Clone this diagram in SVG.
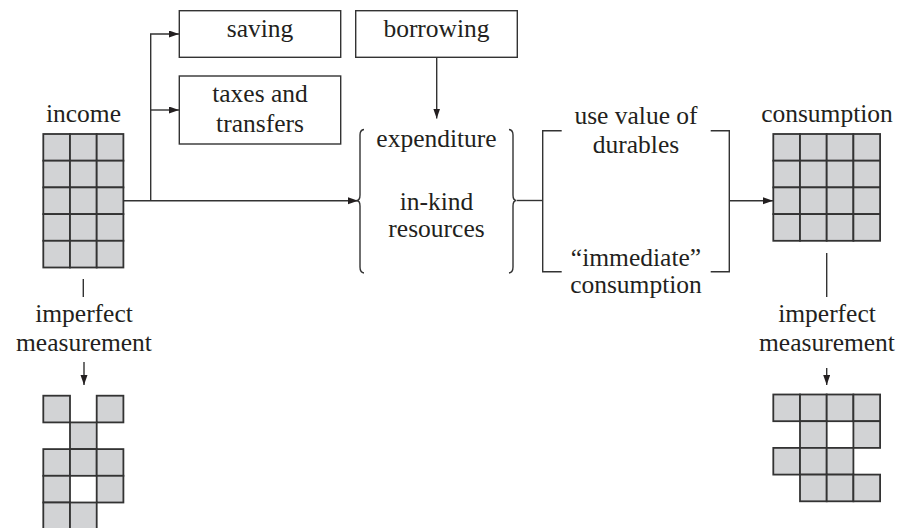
<svg xmlns="http://www.w3.org/2000/svg" width="901" height="528" viewBox="0 0 901 528">
<defs>
<style>
.t{font-family:"Liberation Serif","Times New Roman",serif;font-size:25.5px;fill:#231f20;text-anchor:middle}
.box{fill:#fff;stroke:#333;stroke-width:1.4}
.ln{fill:none;stroke:#333;stroke-width:1.4}
.c{fill:#d2d3d5;stroke:#333;stroke-width:1.8}
</style>
<marker id="ah" markerUnits="userSpaceOnUse" markerWidth="11" markerHeight="8" refX="10" refY="3.5" orient="auto">
<path d="M0,0 L10,3.5 L0,7 z" fill="#231f20"/>
</marker>
<rect id="cell" class="c" width="26.7" height="26.7"/>
</defs>
<rect width="901" height="528" fill="#fff"/>

<g id="connectors">
<path class="ln" d="M124,200.7 H358" marker-end="url(#ah)"/>
<path class="ln" d="M150.7,200.7 V34 H179" marker-end="url(#ah)"/>
<path class="ln" d="M150.7,110 H179" marker-end="url(#ah)"/>
<path class="ln" d="M436.7,57.3 V118.5" marker-end="url(#ah)"/>
<path class="ln" d="M517,200.5 H542.7"/>
<path class="ln" d="M729.3,200.7 H773" marker-end="url(#ah)"/>
<path class="ln" d="M83.3,279 V297"/>
<path class="ln" d="M84,362 V385" marker-end="url(#ah)"/>
<path class="ln" d="M826.7,253 V297"/>
<path class="ln" d="M826.7,368 V385" marker-end="url(#ah)"/>
</g>

<g id="saving">
<rect class="box" x="179.3" y="10.7" width="161.4" height="46.6"/>
<text class="t" x="260" y="37.3">saving</text>
</g>
<g id="taxes">
<rect class="box" x="179.3" y="76" width="161.4" height="68"/>
<text class="t" x="260" y="101.7">taxes and</text>
<text class="t" x="260" y="132">transfers</text>
</g>
<g id="borrowing">
<rect class="box" x="355.7" y="10.7" width="161.6" height="46.6"/>
<text class="t" x="436.5" y="37.3">borrowing</text>
</g>

<g id="expenditure">
<path class="ln" d="M364,129.5 Q360,130 360,135 V195 Q360,200.5 356.5,200.5 Q360,200.5 360,206 V267 Q360,272.5 364,273"/>
<path class="ln" d="M509,129.5 Q513,130 513,135 V195 Q513,200.5 516.5,200.5 Q513,200.5 513,206 V267 Q513,272.5 509,273"/>
<text class="t" x="436.5" y="146.7">expenditure</text>
<text class="t" x="436.5" y="210">in-kind</text>
<text class="t" x="436.5" y="237.3">resources</text>
</g>

<g id="consumption-types">
<path class="ln" d="M561.7,130.7 H542.7 V271.7 H561.7"/>
<path class="ln" d="M710.7,130.7 H729.3 V271.7 H710.7"/>
<text class="t" x="636" y="124">use value of</text>
<text class="t" x="636" y="153.3">durables</text>
<text class="t" x="636" y="265.7">“immediate”</text>
<text class="t" x="636" y="293.3">consumption</text>
</g>

<g id="income">
<text class="t" x="83.5" y="121.7">income</text>
<g transform="translate(43.3,134)">
<use href="#cell" x="0" y="0"/><use href="#cell" x="26.7" y="0"/><use href="#cell" x="53.4" y="0"/>
<use href="#cell" x="0" y="26.7"/><use href="#cell" x="26.7" y="26.7"/><use href="#cell" x="53.4" y="26.7"/>
<use href="#cell" x="0" y="53.4"/><use href="#cell" x="26.7" y="53.4"/><use href="#cell" x="53.4" y="53.4"/>
<use href="#cell" x="0" y="80.1"/><use href="#cell" x="26.7" y="80.1"/><use href="#cell" x="53.4" y="80.1"/>
<use href="#cell" x="0" y="106.8"/><use href="#cell" x="26.7" y="106.8"/><use href="#cell" x="53.4" y="106.8"/>
</g>
</g>

<g id="income-measured">
<text class="t" x="84" y="321.7">imperfect</text>
<text class="t" x="84" y="351">measurement</text>
<g transform="translate(43.3,395.7)">
<use href="#cell" x="0" y="0"/><use href="#cell" x="53.4" y="0"/>
<use href="#cell" x="26.7" y="26.7"/>
<use href="#cell" x="0" y="53.4"/><use href="#cell" x="26.7" y="53.4"/><use href="#cell" x="53.4" y="53.4"/>
<use href="#cell" x="0" y="80.1"/><use href="#cell" x="53.4" y="80.1"/>
<use href="#cell" x="0" y="106.8"/><use href="#cell" x="26.7" y="106.8"/>
</g>
</g>

<g id="consumption">
<text class="t" x="827" y="121.7">consumption</text>
<g transform="translate(773.3,134)">
<use href="#cell" x="0" y="0"/><use href="#cell" x="26.7" y="0"/><use href="#cell" x="53.4" y="0"/><use href="#cell" x="80.1" y="0"/>
<use href="#cell" x="0" y="26.7"/><use href="#cell" x="26.7" y="26.7"/><use href="#cell" x="53.4" y="26.7"/><use href="#cell" x="80.1" y="26.7"/>
<use href="#cell" x="0" y="53.4"/><use href="#cell" x="26.7" y="53.4"/><use href="#cell" x="53.4" y="53.4"/><use href="#cell" x="80.1" y="53.4"/>
<use href="#cell" x="0" y="80.1"/><use href="#cell" x="26.7" y="80.1"/><use href="#cell" x="53.4" y="80.1"/><use href="#cell" x="80.1" y="80.1"/>
</g>
</g>

<g id="consumption-measured">
<text class="t" x="827" y="321.7">imperfect</text>
<text class="t" x="827" y="351">measurement</text>
<g transform="translate(773.3,394.5)">
<use href="#cell" x="0" y="0"/><use href="#cell" x="26.7" y="0"/><use href="#cell" x="53.4" y="0"/><use href="#cell" x="80.1" y="0"/>
<use href="#cell" x="26.7" y="26.7"/><use href="#cell" x="80.1" y="26.7"/>
<use href="#cell" x="0" y="53.4"/><use href="#cell" x="26.7" y="53.4"/><use href="#cell" x="53.4" y="53.4"/>
<use href="#cell" x="26.7" y="80.1"/><use href="#cell" x="53.4" y="80.1"/><use href="#cell" x="80.1" y="80.1"/>
</g>
</g>
</svg>
